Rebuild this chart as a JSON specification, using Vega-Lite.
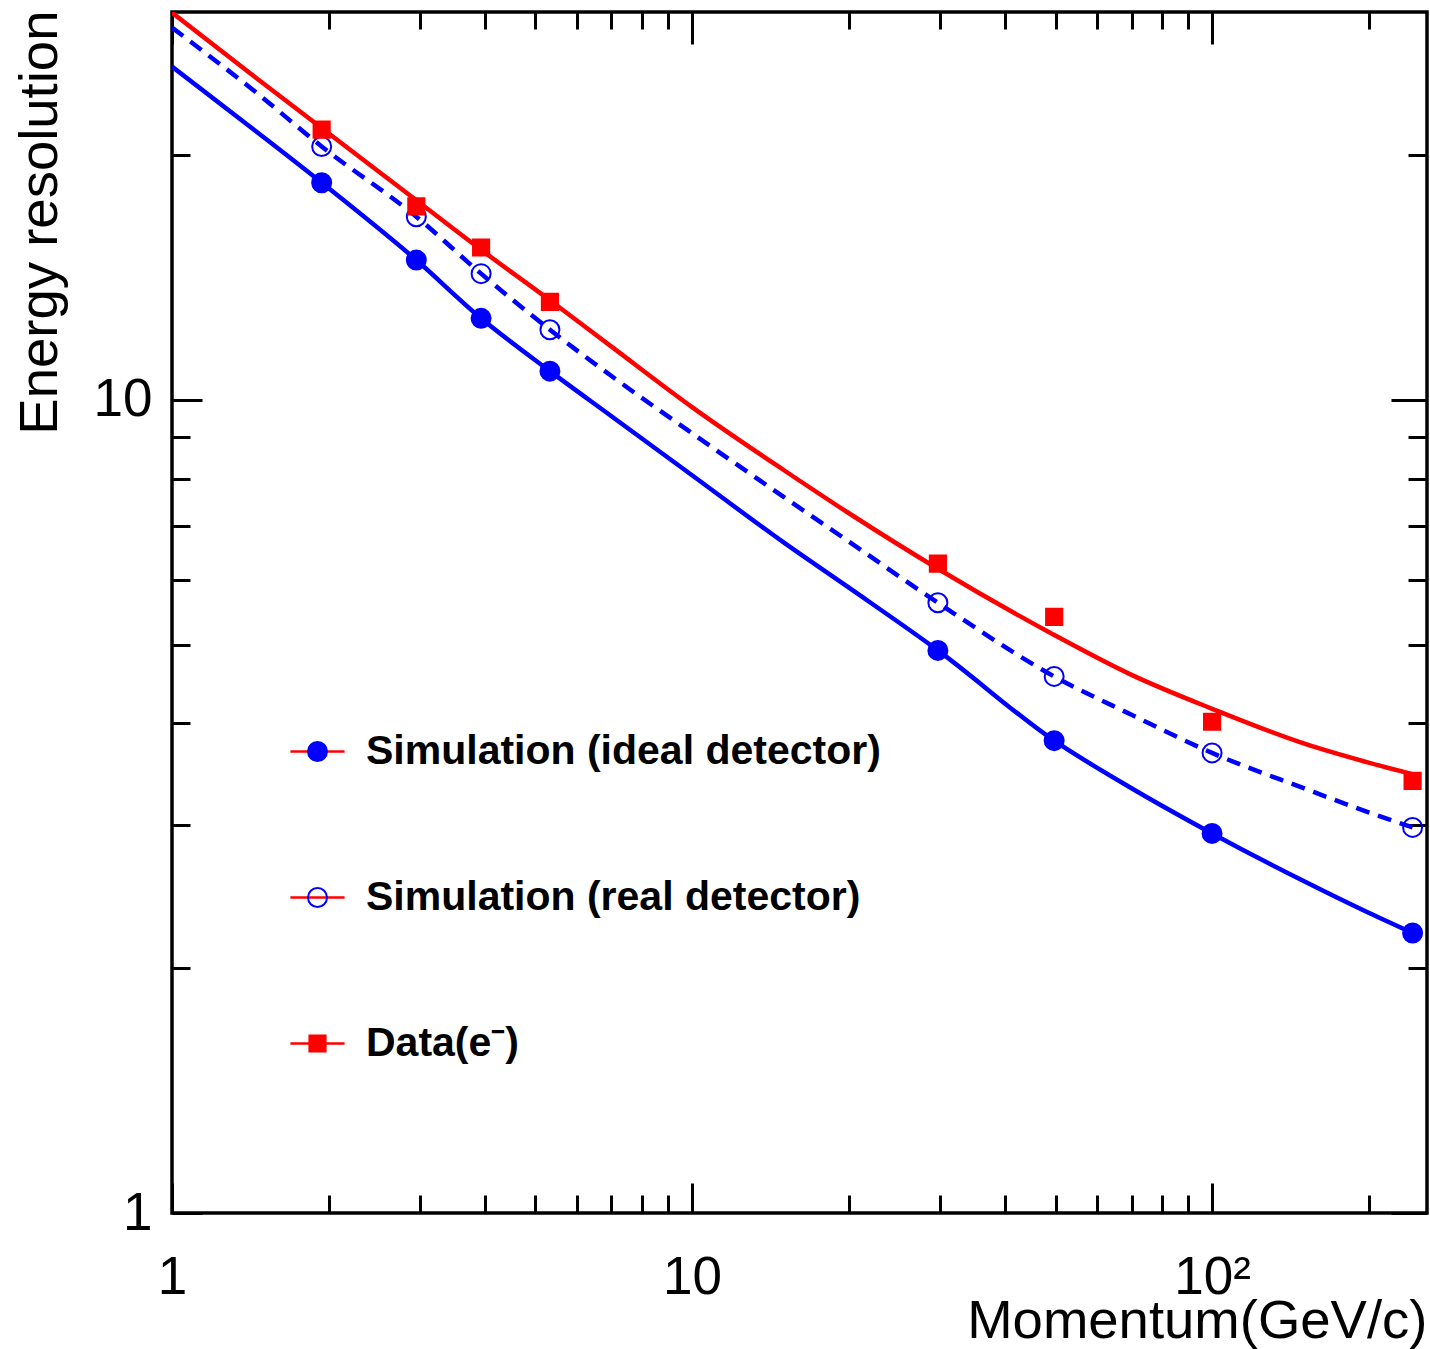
{
  "$schema": "https://vega.github.io/schema/vega-lite/v6.json",
  "width": 1255,
  "height": 1201,
  "autosize": {"type": "none"},
  "padding": {"left": 172, "top": 12, "right": 3, "bottom": 136},
  "background": "white",
  "config": {
    "view": {"stroke": "black", "strokeWidth": 3.5},
    "axis": {"grid": false, "domain": false, "tickColor": "black", "tickWidth": 3, "labelColor": "black", "labelFont": "Liberation Sans", "labelFontSize": 53, "titleFont": "Liberation Sans", "titleFontSize": 54.5, "titleFontWeight": "normal", "titleColor": "black"}
  },
  "datasets": {
    "points": [
      {"p": 1.94, "res": 18.5, "series": "Simulation (ideal detector)"},
      {"p": 2.95, "res": 14.86, "series": "Simulation (ideal detector)"},
      {"p": 3.93, "res": 12.6, "series": "Simulation (ideal detector)"},
      {"p": 5.33, "res": 10.85, "series": "Simulation (ideal detector)"},
      {"p": 29.7, "res": 4.92, "series": "Simulation (ideal detector)"},
      {"p": 49.7, "res": 3.81, "series": "Simulation (ideal detector)"},
      {"p": 100, "res": 2.93, "series": "Simulation (ideal detector)"},
      {"p": 243, "res": 2.21, "series": "Simulation (ideal detector)"},
      {"p": 1.94, "res": 20.5, "series": "Simulation (real detector)"},
      {"p": 2.95, "res": 16.8, "series": "Simulation (real detector)"},
      {"p": 3.93, "res": 14.3, "series": "Simulation (real detector)"},
      {"p": 5.33, "res": 12.2, "series": "Simulation (real detector)"},
      {"p": 29.7, "res": 5.63, "series": "Simulation (real detector)"},
      {"p": 49.7, "res": 4.57, "series": "Simulation (real detector)"},
      {"p": 100, "res": 3.68, "series": "Simulation (real detector)"},
      {"p": 243, "res": 2.98, "series": "Simulation (real detector)"},
      {"p": 1.94, "res": 21.5, "series": "Data(e⁻)"},
      {"p": 2.95, "res": 17.3, "series": "Data(e⁻)"},
      {"p": 3.93, "res": 15.4, "series": "Data(e⁻)"},
      {"p": 5.33, "res": 13.2, "series": "Data(e⁻)"},
      {"p": 29.7, "res": 6.29, "series": "Data(e⁻)"},
      {"p": 49.7, "res": 5.41, "series": "Data(e⁻)"},
      {"p": 100, "res": 4.02, "series": "Data(e⁻)"},
      {"p": 243, "res": 3.4, "series": "Data(e⁻)"}
    ],
    "fits": [
      {"p": 1, "res": 25.7, "series": "Simulation (ideal detector)"},
      {"p": 1.45, "res": 21.4, "series": "Simulation (ideal detector)"},
      {"p": 1.94, "res": 18.5, "series": "Simulation (ideal detector)"},
      {"p": 2.95, "res": 14.86, "series": "Simulation (ideal detector)"},
      {"p": 3.93, "res": 12.6, "series": "Simulation (ideal detector)"},
      {"p": 5.33, "res": 10.85, "series": "Simulation (ideal detector)"},
      {"p": 7, "res": 9.55, "series": "Simulation (ideal detector)"},
      {"p": 10, "res": 8.08, "series": "Simulation (ideal detector)"},
      {"p": 15, "res": 6.68, "series": "Simulation (ideal detector)"},
      {"p": 20, "res": 5.88, "series": "Simulation (ideal detector)"},
      {"p": 29.7, "res": 4.92, "series": "Simulation (ideal detector)"},
      {"p": 49.7, "res": 3.81, "series": "Simulation (ideal detector)"},
      {"p": 70, "res": 3.33, "series": "Simulation (ideal detector)"},
      {"p": 100, "res": 2.93, "series": "Simulation (ideal detector)"},
      {"p": 150, "res": 2.56, "series": "Simulation (ideal detector)"},
      {"p": 200, "res": 2.34, "series": "Simulation (ideal detector)"},
      {"p": 243, "res": 2.21, "series": "Simulation (ideal detector)"},
      {"p": 1, "res": 28.7, "series": "Simulation (real detector)"},
      {"p": 1.45, "res": 23.9, "series": "Simulation (real detector)"},
      {"p": 1.94, "res": 20.5, "series": "Simulation (real detector)"},
      {"p": 2.95, "res": 16.8, "series": "Simulation (real detector)"},
      {"p": 3.93, "res": 14.3, "series": "Simulation (real detector)"},
      {"p": 5.33, "res": 12.2, "series": "Simulation (real detector)"},
      {"p": 7, "res": 10.7, "series": "Simulation (real detector)"},
      {"p": 10, "res": 9.1, "series": "Simulation (real detector)"},
      {"p": 15, "res": 7.6, "series": "Simulation (real detector)"},
      {"p": 20, "res": 6.7, "series": "Simulation (real detector)"},
      {"p": 29.7, "res": 5.63, "series": "Simulation (real detector)"},
      {"p": 49.7, "res": 4.57, "series": "Simulation (real detector)"},
      {"p": 70, "res": 4.1, "series": "Simulation (real detector)"},
      {"p": 100, "res": 3.68, "series": "Simulation (real detector)"},
      {"p": 150, "res": 3.33, "series": "Simulation (real detector)"},
      {"p": 200, "res": 3.11, "series": "Simulation (real detector)"},
      {"p": 243, "res": 2.98, "series": "Simulation (real detector)"},
      {"p": 1, "res": 29.95, "series": "Data(e⁻)"},
      {"p": 1.45, "res": 24.9, "series": "Data(e⁻)"},
      {"p": 1.94, "res": 21.6, "series": "Data(e⁻)"},
      {"p": 2.95, "res": 17.6, "series": "Data(e⁻)"},
      {"p": 3.93, "res": 15.3, "series": "Data(e⁻)"},
      {"p": 5.33, "res": 13.26, "series": "Data(e⁻)"},
      {"p": 7, "res": 11.63, "series": "Data(e⁻)"},
      {"p": 10, "res": 9.8, "series": "Data(e⁻)"},
      {"p": 15, "res": 8.2, "series": "Data(e⁻)"},
      {"p": 20, "res": 7.26, "series": "Data(e⁻)"},
      {"p": 29.7, "res": 6.2, "series": "Data(e⁻)"},
      {"p": 49.7, "res": 5.14, "series": "Data(e⁻)"},
      {"p": 70, "res": 4.59, "series": "Data(e⁻)"},
      {"p": 100, "res": 4.17, "series": "Data(e⁻)"},
      {"p": 150, "res": 3.78, "series": "Data(e⁻)"},
      {"p": 200, "res": 3.58, "series": "Data(e⁻)"},
      {"p": 243, "res": 3.465, "series": "Data(e⁻)"}
    ]
  },
  "layer": [
    {
      "data": {"name": "fits"},
      "mark": {"type": "point", "filled": false, "opacity": 0},
      "encoding": {
        "x": {"field": "p", "type": "quantitative", "scale": {"type": "log", "domain": [1, 259], "nice": false},
          "axis": {"orient": "bottom", "values": [1, 10, 100], "tickSize": -30, "labelPadding": 68, "labelExpr": "datum.value >= 100 ? '10²' : datum.label", "labelFlush": false, "labelOverlap": false,
            "title": "Momentum(GeV/c)", "titleAlign": "right", "titleAnchor": "end", "titleBaseline": "alphabetic", "titleX": 1255, "titleY": 124}},
        "y": {"field": "res", "type": "quantitative", "scale": {"type": "log", "domain": [1, 30], "nice": false},
          "axis": {"orient": "left", "values": [1, 10], "tickSize": -30, "labelPadding": 50, "labelFlush": false, "labelOverlap": false,
            "title": "Energy resolution", "titleAlign": "right", "titleAngle": -90, "titleBaseline": "alphabetic", "titleX": -116, "titleY": -2}},
        "color": {"field": "series", "type": "nominal",
          "sort": ["Simulation (ideal detector)", "Simulation (real detector)", "Data(e⁻)"],
          "scale": {"range": ["#ff0000", "#ff0000", "#ff0000"]},
          "legend": {"orient": "none", "legendX": 125, "legendY": 719, "title": null, "padding": 0, "rowPadding": 104, "labelOffset": 28,
            "labelFont": "Liberation Sans", "labelFontSize": 41, "labelFontWeight": "bold", "labelColor": "black", "labelOpacity": 0, "labelLimit": 0,
            "symbolType": "M-2.85,0L2.85,0", "symbolSize": 361, "symbolStrokeWidth": 2.5, "symbolFillColor": "transparent", "symbolOpacity": 1}}
      }
    },
    {
      "data": {"name": "fits"},
      "transform": [{"filter": "datum.series == 'Simulation (ideal detector)'"}],
      "mark": {"type": "line", "color": "#0000ff", "strokeWidth": 4.5, "interpolate": "monotone", "clip": true},
      "encoding": {
        "x": {"field": "p", "type": "quantitative", "scale": {"type": "log", "domain": [1, 259], "nice": false},
          "axis": {"orient": "top", "values": [1, 10, 100], "tickSize": -32, "labels": false, "title": null}},
        "y": {"field": "res", "type": "quantitative", "scale": {"type": "log", "domain": [1, 30], "nice": false},
          "axis": {"orient": "right", "values": [1, 10], "tickSize": -36, "labels": false, "title": null}}
      }
    },
    {
      "data": {"name": "fits"},
      "transform": [{"filter": "datum.series == 'Simulation (real detector)'"}],
      "mark": {"type": "line", "color": "#0000ff", "strokeWidth": 4.5, "strokeDash": [14, 9], "interpolate": "monotone", "clip": true},
      "encoding": {
        "x": {"field": "p", "type": "quantitative", "scale": {"type": "log", "domain": [1, 259], "nice": false},
          "axis": {"orient": "bottom", "values": [2, 3, 4, 5, 6, 7, 8, 9, 20, 30, 40, 50, 60, 70, 80, 90, 200], "tickSize": -18, "labels": false, "title": null}},
        "y": {"field": "res", "type": "quantitative", "scale": {"type": "log", "domain": [1, 30], "nice": false},
          "axis": {"orient": "left", "values": [2, 3, 4, 5, 6, 7, 8, 9, 20], "tickSize": -18, "labels": false, "title": null}}
      }
    },
    {
      "data": {"name": "fits"},
      "transform": [{"filter": "datum.series == 'Data(e⁻)'"}],
      "mark": {"type": "line", "color": "#ff0000", "strokeWidth": 4.5, "interpolate": "monotone", "clip": true},
      "encoding": {
        "x": {"field": "p", "type": "quantitative", "scale": {"type": "log", "domain": [1, 259], "nice": false},
          "axis": {"orient": "top", "values": [2, 3, 4, 5, 6, 7, 8, 9, 20, 30, 40, 50, 60, 70, 80, 90, 200], "tickSize": -17, "labels": false, "title": null}},
        "y": {"field": "res", "type": "quantitative", "scale": {"type": "log", "domain": [1, 30], "nice": false},
          "axis": {"orient": "right", "values": [2, 3, 4, 5, 6, 7, 8, 9, 20], "tickSize": -19, "labels": false, "title": null}}
      }
    },
    {
      "data": {"name": "points"},
      "mark": {"type": "point", "size": 361, "strokeWidth": 2, "opacity": 1, "clip": true},
      "encoding": {
        "x": {"field": "p", "type": "quantitative", "scale": {"type": "log", "domain": [1, 259], "nice": false}, "axis": null},
        "y": {"field": "res", "type": "quantitative", "scale": {"type": "log", "domain": [1, 30], "nice": false}, "axis": null},
        "shape": {"field": "series", "type": "nominal",
          "scale": {"domain": ["Simulation (ideal detector)", "Simulation (real detector)", "Data(e⁻)"], "range": ["circle", "circle", "M-0.85,-0.85L0.85,-0.85L0.85,0.85L-0.85,0.85Z"]},
          "legend": {"orient": "none", "legendX": 125, "legendY": 719, "title": null, "padding": 0, "rowPadding": 104, "labelOffset": 28,
            "labelFont": "Liberation Sans", "labelFontSize": 41, "labelFontWeight": "bold", "labelColor": "black", "labelLimit": 0,
            "symbolSize": 361, "symbolStrokeWidth": 2, "symbolOpacity": 1}},
        "fill": {"field": "series", "type": "nominal",
          "scale": {"domain": ["Simulation (ideal detector)", "Simulation (real detector)", "Data(e⁻)"], "range": ["#0000ff", "transparent", "#ff0000"]}},
        "stroke": {"field": "series", "type": "nominal",
          "scale": {"domain": ["Simulation (ideal detector)", "Simulation (real detector)", "Data(e⁻)"], "range": ["#0000ff", "#0000ff", "#ff0000"]}}
      }
    }
  ],
  "resolve": {"axis": {"x": "independent", "y": "independent"}}
}
